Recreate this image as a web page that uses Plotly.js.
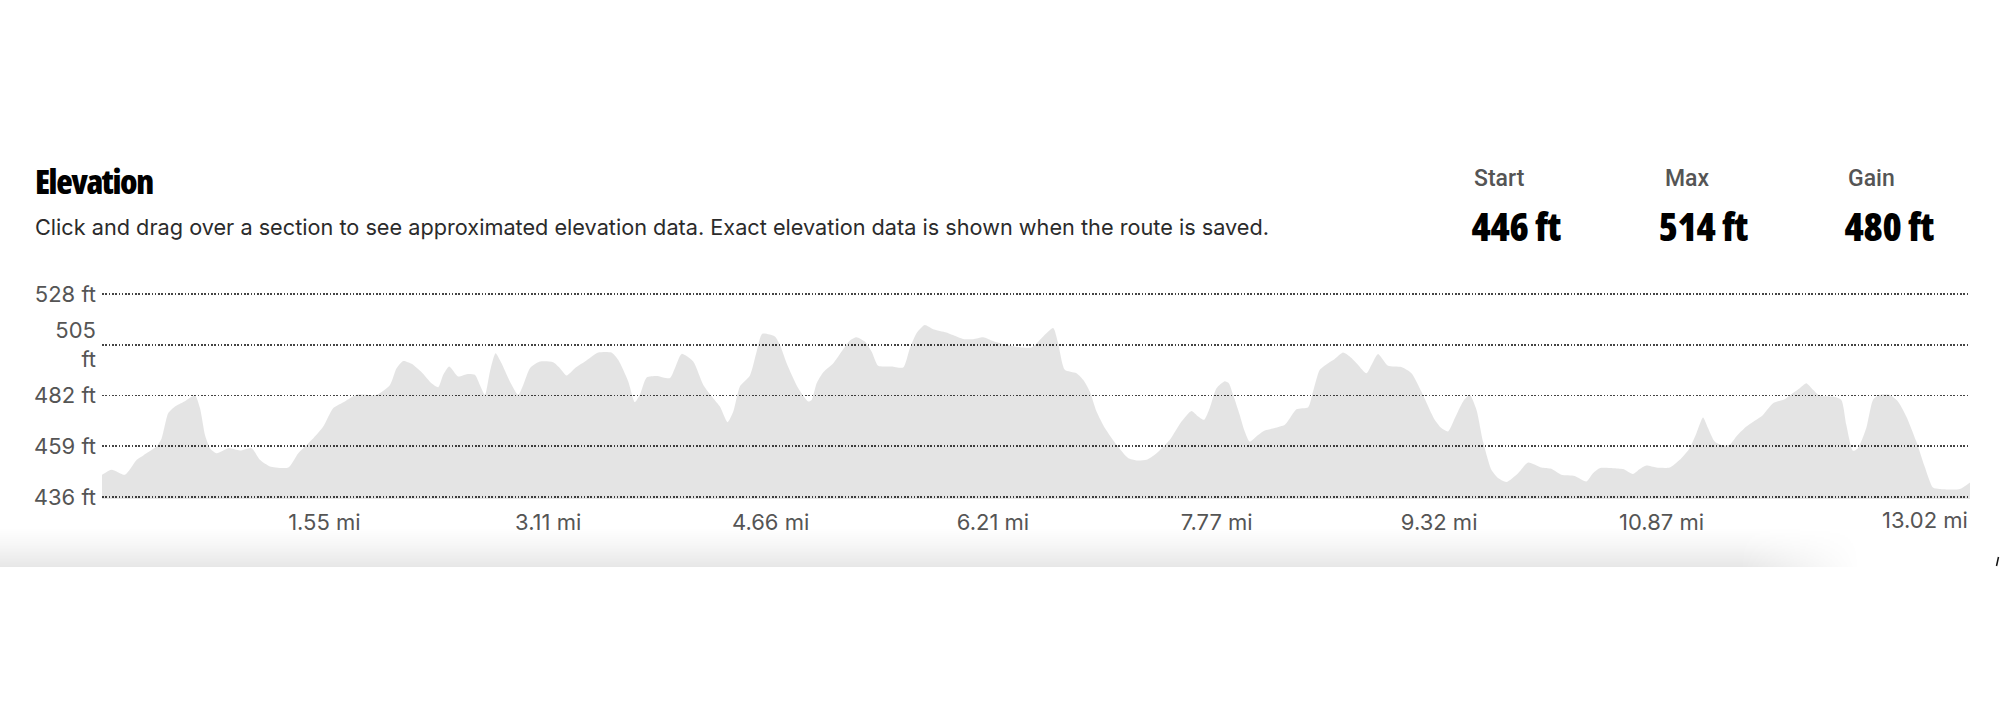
<!DOCTYPE html>
<html>
<head>
<meta charset="utf-8">
<script src="https://cdn.plot.ly/plotly-3.0.1.min.js"></script>
<style>
  html, body { margin: 0; padding: 0; background: #ffffff; }
  #wrap { position: relative; width: 2000px; height: 706px; overflow: hidden; }
  /* soft shadow band under the chart */
  #band {
    position: absolute; left: 0; top: 528px; width: 2000px; height: 39px;
    background: linear-gradient(to bottom, rgba(0,0,0,0) 0%, rgba(0,0,0,0.035) 45%, rgba(0,0,0,0.095) 100%);
    -webkit-mask-image: linear-gradient(to right, #000 0%, #000 87%, transparent 93%);
    mask-image: linear-gradient(to right, #000 0%, #000 87%, transparent 93%);
    z-index: 0;
  }
  #chart { position: absolute; left: 0; top: 0; width: 2000px; height: 706px; z-index: 1; }
  /* heading and summary figures use the condensed cut */
  #chart g.annotation[data-index="0"] text { font-stretch: 75%; letter-spacing: -1.4px; }
  #chart g.annotation[data-index="4"] text,
  #chart g.annotation[data-index="6"] text,
  #chart g.annotation[data-index="8"] text { font-stretch: 75%; letter-spacing: -0.3px; }
</style>
</head>
<body>
<div id="wrap">
  <div id="band"></div>
  <div id="chart"></div>
</div>
<script>
// Route elevation profile: distance along the route (mi) and elevation (ft)
const distanceMi = [
  0, 0.067, 0.160, 0.242, 0.288, 0.381, 0.416, 0.462, 0.509, 0.567,
  0.648, 0.683, 0.718, 0.753, 0.799, 0.880, 0.962, 1.043, 1.101, 1.171,
  1.298, 1.368, 1.473, 1.542, 1.612, 1.693, 1.775, 1.914, 2.007, 2.053,
  2.100, 2.158, 2.228, 2.297, 2.344, 2.378, 2.420, 2.483, 2.541,
  2.599, 2.634, 2.669, 2.704, 2.743, 2.785, 2.843, 2.901, 2.936, 2.983,
  3.052, 3.145, 3.192, 3.238, 3.296, 3.366, 3.459, 3.551, 3.598, 3.668,
  3.714, 3.749, 3.796, 3.865, 3.958, 3.993, 4.040, 4.121, 4.191, 4.260,
  4.307, 4.360, 4.400, 4.446, 4.516, 4.563, 4.602, 4.690, 4.725, 4.772,
  4.853, 4.923, 4.946, 4.981, 5.027, 5.097, 5.155,
  5.213, 5.259, 5.317, 5.364, 5.410, 5.503, 5.584, 5.631, 5.677, 5.735,
  5.793, 5.886, 5.944, 6.002, 6.072, 6.142, 6.211, 6.304, 6.397, 6.479,
  6.560, 6.630, 6.664, 6.711, 6.792, 6.839, 6.885, 6.932, 6.990, 7.071,
  7.152, 7.210, 7.280, 7.350, 7.443, 7.524, 7.594, 7.640, 7.682, 7.721,
  7.768,
  7.826, 7.854, 7.884, 7.930, 7.965, 8.000, 8.058, 8.105, 8.174, 8.244,
  8.279, 8.325, 8.407, 8.441, 8.488, 8.546, 8.592, 8.650, 8.697, 8.755,
  8.813, 8.848, 8.894, 8.964, 9.057, 9.127, 9.196, 9.289, 9.336, 9.382,
  9.429, 9.487, 9.533, 9.580, 9.626, 9.684, 9.731, 9.789, 9.870, 9.940,
  10.033, 10.102, 10.172, 10.265, 10.346, 10.392,
  10.439, 10.532, 10.602, 10.671, 10.718, 10.764, 10.834, 10.927, 10.997, 11.066,
  11.113, 11.159, 11.194, 11.240, 11.298, 11.345, 11.391, 11.461, 11.531, 11.577,
  11.647, 11.728, 11.786, 11.833, 11.879, 11.926, 11.972, 12.065, 12.123, 12.158,
  12.204, 12.239, 12.297, 12.344, 12.390, 12.460, 12.518, 12.576, 12.646, 12.704,
  12.762, 12.808, 12.948, 13.02
];

const elevationFt = [
  446.0, 448.3, 446.0, 452.8, 454.8, 458.9, 462.6, 474.0, 477.0, 479.0,
  482.0, 476.3, 464.1, 458.1, 455.8, 458.1, 457.0, 458.1, 452.8, 449.8,
  449.3, 455.8, 462.6, 467.9, 476.3, 479.3, 482.3, 482.3, 486.8, 494.4,
  497.7, 496.4, 492.6, 487.6, 485.8, 491.4, 495.2, 490.6, 491.7,
  491.4, 486.8, 482.3, 492.9, 501.2, 496.6, 488.4, 482.3, 486.8, 494.4,
  497.4, 497.1, 494.4, 491.1, 494.4, 497.4, 501.5, 501.5, 498.2, 488.4,
  479.0, 482.3, 490.2, 490.9, 489.9, 494.4, 500.9, 497.4, 486.8, 480.8,
  477.0, 469.9, 474.7, 486.1, 491.1, 502.0, 510.0, 508.8, 505.0, 496.7,
  485.3, 479.3, 480.0, 487.6, 492.6, 496.7, 502.0,
  507.0, 508.5, 506.5, 502.0, 495.5, 495.2, 494.7, 503.5, 510.3, 514.0,
  512.1, 510.6, 509.1, 507.7, 507.6, 508.5, 506.8, 505.0, 503.9, 503.8,
  508.8, 512.6, 505.8, 493.7, 492.1, 489.1, 483.8, 474.7, 467.2, 459.6,
  453.6, 452.5, 452.8, 455.8, 461.9, 470.2, 475.0, 472.5, 471.0, 476.3,
  485.3,
  488.5, 487.6, 482.3, 473.2, 465.7, 461.1, 464.1, 466.1, 467.2, 468.7,
  471.7, 475.8, 476.7, 483.8, 493.7, 496.7, 498.6, 501.5, 499.7, 495.9,
  492.1, 495.9, 500.9, 495.5, 494.9, 492.1, 483.8, 471.0, 467.2, 465.7,
  471.7, 479.3, 482.3, 475.5, 461.1, 448.3, 444.5, 442.7, 446.7, 451.6,
  449.3, 448.7, 446.0, 445.5, 443.0, 446.7,
  449.0, 449.0, 448.6, 446.4, 448.6, 450.2, 449.3, 449.3, 452.8, 458.1,
  464.9, 472.0, 467.2, 461.1, 459.3, 459.6, 463.4, 467.9, 471.0, 473.2,
  478.5, 480.3, 483.1, 485.3, 487.6, 484.6, 481.9, 481.5, 480.0, 468.7,
  456.9, 458.1, 467.2, 480.0, 482.3, 482.3, 479.3, 472.5, 461.1, 449.8,
  440.2, 439.5, 439.5, 442.5
];

// Axis ticks
const xTickVals = [1.55, 3.11, 4.66, 6.21, 7.77, 9.32, 10.87, 13.02];
const xTickText = ['1.55 mi', '3.11 mi', '4.66 mi', '6.21 mi', '7.77 mi', '9.32 mi', '10.87 mi', '13.02 mi'];
const yTickVals = [436, 459, 482, 505, 528];
const yTickText = ['436 ft', '459 ft', '482 ft', '505<br>ft', '528 ft'];

// Header text and route summary
const headerTitle = 'Elevation';
const headerNote = 'Click and drag over a section to see approximated elevation data. Exact elevation data is shown when the route is saved.';
const statLabels = ['Start', 'Max', 'Gain'];
const statValues = ['446 ft', '514 ft', '480 ft'];

const W = 2000, H = 706;
const M = { l: 102, r: 30, t: 292, b: 207 };
const px = x => (x - M.l) / (W - M.l - M.r);
const py = y => (H - M.b - y) / (H - M.t - M.b);

const bodyFont = 'Inter, "Open Sans", "DejaVu Sans", sans-serif';
const condFont = '"Open Sans", "Liberation Sans", sans-serif';

// left edges of the summary columns and centres of their figures
const statX = [1472, 1663, 1846];
const statValueCenter = [1516, 1703, 1889];

const annotations = [
  {
    text: headerTitle, xref: 'paper', yref: 'paper', x: px(93.5), y: py(181),
    xanchor: 'center', yanchor: 'middle', showarrow: false,
    font: { family: condFont, size: 34, color: '#000000', weight: 800 }
  },
  {
    text: headerNote, xref: 'paper', yref: 'paper', x: px(33), y: py(226.5),
    xanchor: 'left', yanchor: 'middle', showarrow: false,
    font: { family: bodyFont, size: 21.7, color: '#2b2b2b' }
  },
  // last distance label sits flush with the right end of the profile
  {
    text: xTickText[xTickText.length - 1], xref: 'x', yref: 'paper',
    x: xTickVals[xTickVals.length - 1], y: py(520),
    xanchor: 'right', yanchor: 'middle', showarrow: false,
    font: { family: bodyFont, size: 22, color: '#555555' }
  }
];

statLabels.forEach((label, i) => {
  annotations.push({
    text: label, xref: 'paper', yref: 'paper', x: px(statX[i]), y: py(178),
    xanchor: 'left', yanchor: 'middle', showarrow: false,
    font: { family: 'Roboto, "Open Sans", sans-serif', size: 23, color: '#555555', weight: 500 }
  });
  annotations.push({
    text: statValues[i], xref: 'paper', yref: 'paper', x: px(statValueCenter[i]), y: py(225.5),
    xanchor: 'center', yanchor: 'middle', showarrow: false,
    font: { family: condFont, size: 39, color: '#000000', weight: 800 }
  });
});

const trace = {
  x: distanceMi,
  y: elevationFt,
  type: 'scatter',
  mode: 'lines',
  fill: 'tozeroy',
  fillcolor: 'rgba(0,0,0,0.105)',
  line: { width: 0, shape: 'spline', smoothing: 0.6, color: 'rgba(0,0,0,0)' },
  hoverinfo: 'skip'
};

const layout = {
  width: W,
  height: H,
  margin: { l: M.l, r: M.r, t: M.t, b: M.b, pad: 0 },
  paper_bgcolor: 'rgba(0,0,0,0)',
  plot_bgcolor: 'rgba(0,0,0,0)',
  showlegend: false,
  xaxis: {
    range: [0, 13.02],
    tickvals: xTickVals.slice(0, -1),
    ticktext: xTickText.slice(0, -1),
    showgrid: false, zeroline: false, showline: false, ticks: '',
    ticklabelstandoff: 8,
    tickfont: { family: bodyFont, size: 22, color: '#555555' },
    fixedrange: true
  },
  yaxis: {
    range: [435, 529],
    tickvals: yTickVals,
    ticktext: yTickText,
    showgrid: true, gridcolor: '#444444', gridwidth: 1.6, griddash: '1.6px,1.7px',
    zeroline: false, showline: false, ticks: '',
    ticklabelstandoff: 5,
    tickfont: { family: bodyFont, size: 22, color: '#555555' },
    fixedrange: true
  },
  annotations: annotations,
  shapes: [
    {
      type: 'line', xref: 'paper', yref: 'paper',
      x0: px(1996.5), y0: py(566), x1: px(1998.5), y1: py(557),
      line: { color: '#111111', width: 1.5 }
    }
  ]
};

Plotly.newPlot('chart', [trace], layout, { displayModeBar: false, staticPlot: true });
</script>
</body>
</html>
